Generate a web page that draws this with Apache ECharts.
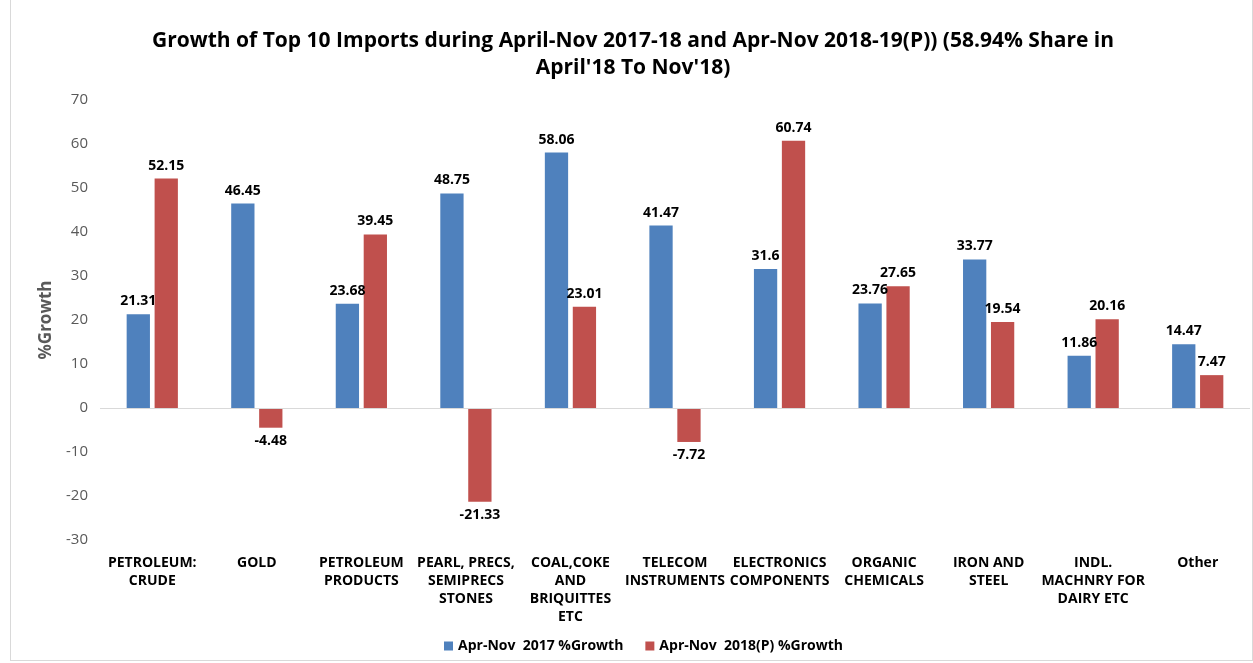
<!DOCTYPE html>
<html>
<head>
<meta charset="utf-8">
<script src="https://cdn.jsdelivr.net/npm/echarts@6/dist/echarts.min.js"></script>
<style>
  html, body { margin: 0; padding: 0; background: #fff; }
  #frame { position: absolute; left: 10px; top: 0; width: 1241px; height: 660px; border-left: 1px solid #d9d9d9; border-bottom: 1px solid #d9d9d9; border-right: 1px solid #d9d9d9; }
  #graph { width: 1253px; height: 663px; }
</style>
</head>
<body>
<div id="frame"></div>
<div id="graph"></div>
<script>
const categories = [
  'PETROLEUM:\nCRUDE', 'GOLD', 'PETROLEUM\nPRODUCTS', 'PEARL, PRECS,\nSEMIPRECS\nSTONES',
  'COAL,COKE\nAND\nBRIQUITTES\nETC', 'TELECOM\nINSTRUMENTS', 'ELECTRONICS\nCOMPONENTS',
  'ORGANIC\nCHEMICALS', 'IRON AND\nSTEEL', 'INDL.\nMACHNRY FOR\nDAIRY ETC', 'Other'
];
const growth2017 = [21.31, 46.45, 23.68, 48.75, 58.06, 41.47, 31.6, 23.76, 33.77, 11.86, 14.47];
const growth2018 = [52.15, -4.48, 39.45, -21.33, 23.01, -7.72, 60.74, 27.65, 19.54, 20.16, 7.47];
const seriesNames = ['Apr-Nov  2017 %Growth', 'Apr-Nov  2018(P) %Growth'];

const font = "'Liberation Sans Narrow', 'Open Sans', sans-serif";

function withLabels(values) {
  return values.map(v => ({
    value: v,
    label: { position: v < 0 ? 'bottom' : 'top' }
  }));
}

var myChart = echarts.init(document.getElementById('graph'));
myChart.setOption({
  animation: false,
  textStyle: { fontFamily: font },
  title: {
    text: "Growth of Top 10 Imports during April-Nov 2017-18 and Apr-Nov 2018-19(P)) (58.94% Share in\nApril'18 To Nov'18)",
    left: 628, textAlign: 'center', top: 23,
    textStyle: { fontFamily: font, fontSize: 21, fontWeight: 'bold', color: '#000', lineHeight: 27 }
  },
  legend: {
    bottom: 5, left: 439,
    itemWidth: 9, itemHeight: 9, itemGap: 22,
    icon: 'rect',
    textStyle: { fontFamily: font, fontSize: 14, fontWeight: 'bold', color: '#000' },
    data: seriesNames
  },
  grid: { left: 100, right: 3, top: 100, bottom: 123 },
  xAxis: {
    type: 'category',
    data: categories,
    axisLine: { show: false },
    axisTick: { show: false },
    axisLabel: {
      interval: 0, margin: 14, lineHeight: 18,
      fontFamily: font, fontSize: 14, fontWeight: 'bold', color: '#000'
    }
  },
  yAxis: {
    type: 'value',
    min: -30, max: 70, interval: 10,
    name: '%Growth', nameLocation: 'middle', nameGap: 44, nameRotate: 90,
    nameTextStyle: { fontFamily: font, fontSize: 17, fontWeight: 'bold', color: '#595959' },
    axisLine: { show: false },
    axisTick: { show: false },
    splitLine: { show: false },
    axisLabel: { fontFamily: font, fontSize: 15, color: '#595959', margin: 12 }
  },
  series: [
    {
      name: seriesNames[0], type: 'bar',
      data: withLabels(growth2017),
      barGap: '20%', barCategoryGap: '51%',
      itemStyle: { color: '#4F81BD' },
      label: { show: true, distance: 6, fontFamily: font, fontSize: 14, fontWeight: 'bold', color: '#000' },
      markLine: {
        silent: true, symbol: 'none', label: { show: false },
        lineStyle: { color: '#d9d9d9', type: 'solid', width: 1 },
        data: [{ yAxis: 0 }]
      }
    },
    {
      name: seriesNames[1], type: 'bar',
      data: withLabels(growth2018),
      itemStyle: { color: '#C0504D' },
      label: { show: true, distance: 6, fontFamily: font, fontSize: 14, fontWeight: 'bold', color: '#000' }
    }
  ]
});
</script>
</body>
</html>
